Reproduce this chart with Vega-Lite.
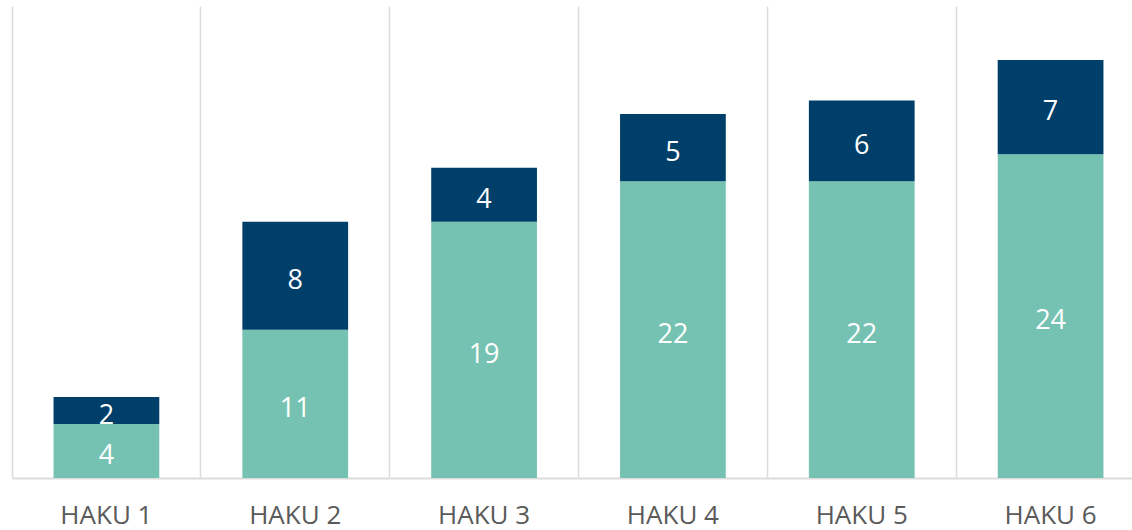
{
  "$schema": "https://vega.github.io/schema/vega-lite/v6.json",
  "autosize": {"type": "none"},
  "padding": {"left": 12, "top": 6, "right": 0, "bottom": 52},
  "width": 1133,
  "height": 472,
  "background": "#ffffff",
  "config": {"view": {"stroke": null}, "font": "Open Sans"},
  "data": {"values": [
    {"haku": "HAKU 1", "sarja": "1", "arvo": 4},
    {"haku": "HAKU 1", "sarja": "2", "arvo": 2},
    {"haku": "HAKU 2", "sarja": "1", "arvo": 11},
    {"haku": "HAKU 2", "sarja": "2", "arvo": 8},
    {"haku": "HAKU 3", "sarja": "1", "arvo": 19},
    {"haku": "HAKU 3", "sarja": "2", "arvo": 4},
    {"haku": "HAKU 4", "sarja": "1", "arvo": 22},
    {"haku": "HAKU 4", "sarja": "2", "arvo": 5},
    {"haku": "HAKU 5", "sarja": "1", "arvo": 22},
    {"haku": "HAKU 5", "sarja": "2", "arvo": 6},
    {"haku": "HAKU 6", "sarja": "1", "arvo": 24},
    {"haku": "HAKU 6", "sarja": "2", "arvo": 7}
  ]},
  "transform": [
    {"stack": "arvo", "groupby": ["haku"], "sort": [{"field": "sarja"}], "as": ["y0", "y1"]}
  ],
  "encoding": {
    "x": {
      "field": "haku", "type": "nominal", "sort": null,
      "scale": {"paddingInner": 0, "paddingOuter": 0},
      "axis": {
        "title": null, "labelAngle": 0, "ticks": false,
        "grid": true, "bandPosition": 0, "gridColor": "#dcdcdc", "gridWidth": 1.5,
        "domainColor": "#dcdcdc", "domainWidth": 2,
        "labelFont": "Open Sans", "labelFontSize": 26, "labelColor": "#5a5a5a",
        "labelPadding": 24
      }
    }
  },
  "layer": [
    {
      "mark": {"type": "bar", "width": {"band": 0.56}},
      "encoding": {
        "y": {
          "field": "y0", "type": "quantitative",
          "scale": {"domain": [0, 35], "nice": false},
          "axis": null
        },
        "y2": {"field": "y1"},
        "color": {
          "field": "sarja", "type": "nominal",
          "scale": {"domain": ["1", "2"], "range": ["#76c2b2", "#003f69"]},
          "legend": null
        }
      }
    },
    {
      "transform": [
        {"fold": ["y0", "y1"], "as": ["reuna", "taso"]},
        {"aggregate": [{"op": "mean", "field": "taso", "as": "keski"}], "groupby": ["haku", "sarja", "arvo"]}
      ],
      "mark": {"type": "text", "color": "#ffffff", "fontSize": 27, "baseline": "middle", "align": "center", "dy": 5},
      "encoding": {
        "y": {"field": "keski", "type": "quantitative"},
        "text": {"field": "arvo", "type": "quantitative"}
      }
    }
  ]
}
